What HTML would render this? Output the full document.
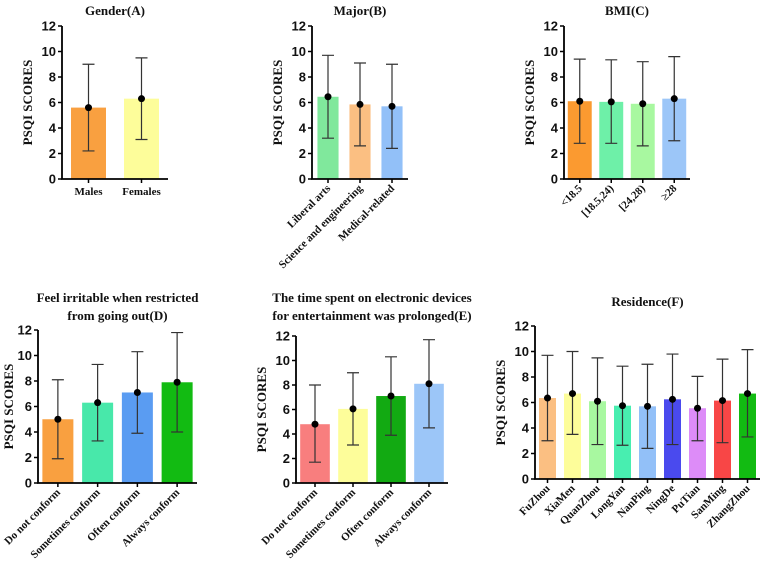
<!DOCTYPE html>
<html><head><meta charset="utf-8">
<style>body{margin:0;background:#fff}svg{display:block}text{font-family:"Liberation Serif",serif;font-weight:bold;fill:#111}</style>
</head><body>
<svg id="c" width="767" height="566"></svg>
<script>
const catsA=["Males","Females"];const meanA=[5.6,6.3];const loA=[2.2,3.1];const hiA=[9.0,9.5];
const catsB=["Liberal arts","Science and engineering","Medical-related"];const meanB=[6.45,5.85,5.7];const loB=[3.2,2.6,2.4];const hiB=[9.7,9.1,9.0];
const catsC=["<18.5","[18.5,24)","[24,28)","≥28"];const meanC=[6.1,6.05,5.9,6.3];const loC=[2.8,2.8,2.6,3.0];const hiC=[9.4,9.35,9.2,9.6];
const catsD=["Do not conform","Sometimes conform","Often conform","Always conform"];const meanD=[5.0,6.3,7.1,7.9];const loD=[1.9,3.3,3.9,4.0];const hiD=[8.1,9.3,10.3,11.8];
const catsE=["Do not conform","Sometimes conform","Often conform","Always conform"];const meanE=[4.8,6.05,7.1,8.1];const loE=[1.7,3.1,3.9,4.5];const hiE=[8.0,9.0,10.3,11.7];
const catsF=["FuZhou","XiaMen","QuanZhou","LongYan","NanPing","NingDe","PuTian","SanMing","ZhangZhou"];const meanF=[6.35,6.7,6.1,5.75,5.7,6.25,5.55,6.15,6.7];const loF=[3.0,3.5,2.7,2.65,2.4,2.7,3.0,2.85,3.3];const hiF=[9.7,10.0,9.5,8.85,9.0,9.8,8.05,9.4,10.15];
const yTicks=[0,2,4,6,8,10,12];
const svg=document.getElementById('c');const NS="http://www.w3.org/2000/svg";
function el(t,a,p){const e=document.createElementNS(NS,t);for(const k in a)e.setAttribute(k,a[k]);(p||svg).appendChild(e);return e;}
function panel(o){
 const g=el('g',{});
 
 
 const y=v=>o.y0-(o.y0-o.y12)*v/12;
 const n=o.cats.length,step=(o.x1-o.ax)/n;
 const x=i=>o.ax+step*(i+0.5);
 o.title.forEach((t,k)=>{const e=el('text',{x:(o.ax+o.x1)/2,y:o.ty+k*18,'text-anchor':'middle','font-size':13},g);e.textContent=t;
  });
 const yt=el('text',{transform:`translate(${o.ax-o.yo},${(o.y0+o.y12)/2}) rotate(-90)`,'text-anchor':'middle','font-size':13},g);yt.textContent="PSQI SCORES";
 
 o.cats.forEach((c,i)=>{
  const bw=step*o.bw;
  const r=el('rect',{x:x(i)-bw/2,y:y(o.mean[i]),width:bw,height:y(0)-y(o.mean[i]),fill:o.colors[i]},g);
  
  const eb=el('path',{d:`M${x(i)},${y(o.lo[i])}V${y(o.hi[i])}M${x(i)-6},${y(o.lo[i])}h12M${x(i)-6},${y(o.hi[i])}h12`,stroke:'#333','stroke-width':1.2,fill:'none'},g);
  
  const d=el('circle',{cx:x(i),cy:y(o.mean[i]),r:3.5,fill:'#000'},g);
  
  el('line',{x1:x(i),x2:x(i),y1:o.y0,y2:o.y0+4,stroke:'#000','stroke-width':1.5},g);
  const t=o.rot?el('text',{transform:`translate(${x(i)+3},${o.y0+10}) rotate(-45)`,'text-anchor':'end','font-size':11},g)
              :el('text',{x:x(i),y:o.y0+16,'text-anchor':'middle','font-size':11},g);
  t.textContent=c;
 });
 el('path',{d:`M${o.ax},${o.y12}V${o.y0}H${o.x1}`,stroke:'#000','stroke-width':1.8,fill:'none'},g);
 yTicks.forEach(v=>{el('line',{x1:o.ax-4,x2:o.ax,y1:y(v),y2:y(v),stroke:'#000','stroke-width':1.5},g);
  const t=el('text',{x:o.ax-6,y:y(v)+4.5,'text-anchor':'end','font-size':13,style:'font-family:"Liberation Sans",sans-serif;font-weight:bold'},g);t.textContent=v;
  });
}
panel({name:'panel-gender',cats:catsA,mean:meanA,lo:loA,hi:hiA,ax:62,x1:168,y0:179,y12:26,bw:0.66,ty:15,yo:30,title:["Gender(A)"],rot:false,colors:["#f9a040","#fdfd9a"]});
panel({name:'panel-major',cats:catsB,mean:meanB,lo:loB,hi:hiB,ax:312,x1:408,y0:179,y12:26,bw:0.66,ty:15,yo:30,title:["Major(B)"],rot:true,colors:["#80e89c","#fbbf82","#92c0f8"]});
panel({name:'panel-bmi',cats:catsC,mean:meanC,lo:loC,hi:hiC,ax:564,x1:690,y0:179,y12:26,bw:0.76,ty:15,yo:30,title:["BMI(C)"],rot:true,colors:["#fb9a30","#6ef0a8","#a8f8a0","#9cc6f8"]});
panel({name:'panel-irritable',cats:catsD,mean:meanD,lo:loD,hi:hiD,ax:38,x1:197,y0:483,y12:330,bw:0.78,ty:302,yo:25,title:["Feel irritable when restricted","from going out(D)"],rot:true,colors:["#f9a040","#48e8aa","#5a9cf2","#12bb12"]});
panel({name:'panel-devices',cats:catsE,mean:meanE,lo:loE,hi:hiE,ax:296,x1:448,y0:483,y12:336,bw:0.78,ty:302,yo:30,title:["The time spent on electronic devices","for entertainment was prolonged(E)"],rot:true,colors:["#f87e7e","#fdfd9a","#12aa12","#9cc6f8"]});
panel({name:'panel-residence',cats:catsF,mean:meanF,lo:loF,hi:hiF,ax:535,x1:760,y0:479,y12:326,bw:0.68,ty:306,yo:30,title:["Residence(F)"],rot:true,colors:["#fbbf82","#fdfd9a","#a8f8a0","#48eeb0","#92c0f8","#4a4aee","#dd8cf8","#f84646","#12bb12"]});
</script>
</body></html>
